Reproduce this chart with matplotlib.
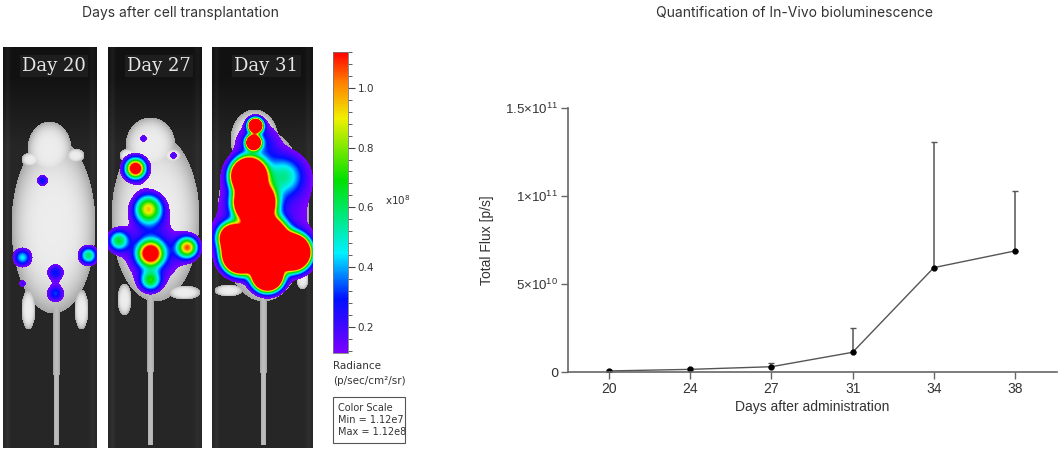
import numpy as np
import matplotlib
matplotlib.use("Agg")
import matplotlib.pyplot as plt
from matplotlib.colors import LinearSegmentedColormap, Normalize
from matplotlib.cm import ScalarMappable
from matplotlib.patches import Rectangle
from matplotlib.ticker import MultipleLocator

# ---------------- data ----------------
days = ["20", "24", "27", "31", "34", "38"]
flux_mean = [0.06e10, 0.15e10, 0.30e10, 1.12e10, 5.93e10, 6.88e10]
flux_err_up = [0.03e10, 0.08e10, 0.20e10, 1.36e10, 7.14e10, 3.42e10]
yticks = [0, 5e10, 1e11, 1.5e11]
ytick_labels = ["0", r"$5{\times}10^{10}$", r"$1{\times}10^{11}$", r"$1.5{\times}10^{11}$"]

panel_days = ["Day 20", "Day 27", "Day 31"]
cbar_min, cbar_max = 0.112, 1.12
cbar_ticks = [0.2, 0.4, 0.6, 0.8, 1.0]

# blobs of signal per mouse: (x, y, sigma, peak) in panel pixels, peak in 1e8 units
blobs = [
    [(39, 133, 4, 0.3), (19, 210, 6, 0.45), (85, 208, 6, 0.6), (52, 225, 6, 0.3),
     (52, 246, 6, 0.32), (19, 236, 3, 0.2)],
    [(27, 121, 6, 1.3), (40, 160, 9, 0.6), (42, 206, 8, 1.3), (10, 193, 7, 0.6),
     (79, 200, 7, 1.0), (42, 233, 7, 0.6), (35, 91, 3, 0.2), (65, 108, 3, 0.2),
     (45, 205, 20, 0.3), (40, 165, 11, 0.35), (27, 121, 10, 0.25)],
    [(43, 78, 4, 4), (41, 95, 4, 4), (36, 128, 9, 6), (42, 155, 10, 7),
     (52, 192, 11, 8), (28, 208, 9, 7), (80, 205, 9, 7), (55, 228, 8, 6),
     (20, 190, 8, 3), (72, 128, 14, 0.45), (45, 95, 14, 0.3), (50, 170, 40, 0.2)],
]
# mouse silhouettes: head, body, extra ellipses (cx, cy, a, b); tail x
mice = [
    dict(w=94, head=(46, 102, 22, 28), body=(50, 178, 42, 88),
         legs=[(27, 112, 9, 7), (72, 108, 9, 7), (25, 262, 7, 20), (78, 262, 7, 20)],
         tail=53, tail_top=255),
    dict(w=94, head=(42, 98, 25, 28), body=(47, 170, 44, 84),
         legs=[(20, 108, 9, 7), (64, 108, 9, 7), (16, 252, 7, 16), (76, 245, 16, 7)],
         tail=42, tail_top=248),
    dict(w=101, head=(42, 92, 24, 30), body=(51, 168, 46, 86),
         legs=[(16, 243, 14, 6), (90, 232, 6, 10)], tail=51, tail_top=250),
]
panel_px = [(3, 97), (108, 202), (212, 313)]

# ---------------- figure ----------------
W, H = 1062, 453
fig = plt.figure(figsize=(W / 100, H / 100), dpi=100)
fig.patch.set_facecolor("white")

cmap = LinearSegmentedColormap.from_list(
    "radiance",
    [(0.0, "#7a00ff"), (0.18, "#0010ff"), (0.33, "#00f0ff"), (0.575, "#00e000"),
     (0.78, "#f0f000"), (0.9, "#ff8000"), (1.0, "#ff0000")])
norm = Normalize(cbar_min, cbar_max)


def fax(x0, y0, x1, y1):
    return fig.add_axes([x0 / W, 1 - y1 / H, (x1 - x0) / W, (y1 - y0) / H])


for i, (px, m, bl, lab) in enumerate(zip(panel_px, mice, blobs, panel_days)):
    ax = fax(px[0], 47, px[1], 448)
    w = m["w"]
    hgt = 401
    yy, xx = np.mgrid[0:hgt, 0:w].astype(float)
    img = 0.07 + 0.08 * np.clip((yy - 30) / 70, 0, 1)
    img = img + 0.04 * np.exp(-((xx - 4) ** 2) / 6) + 0.03 * np.exp(-((xx - w + 5) ** 2) / 8)
    shade = np.zeros((hgt, w))
    inside = np.zeros((hgt, w), bool)
    for (cx, cy, a, b) in [m["head"], m["body"]] + m["legs"]:
        e = ((xx - cx) / a) ** 2 + ((yy - cy) / b) ** 2
        msk = e < 1
        shade = np.where(msk, np.maximum(shade, 0.93 - 0.28 * e ** 2), shade)
        inside |= msk
    tx = m["tail"]
    tw = 4.0 - 2.0 * (yy - m["tail_top"]) / (hgt - m["tail_top"])
    tmask = (np.abs(xx - tx) < tw) & (yy > m["tail_top"]) & (yy < hgt - 3)
    shade = np.where(tmask, np.maximum(shade, 0.74 - 0.15 * (np.abs(xx - tx) / 4) ** 2), shade)
    inside |= tmask
    img = np.where(inside, shade, img)
    rgb = np.dstack([img, img, img])
    field = np.zeros((hgt, w))
    for (cx, cy, s, amp) in bl:
        field += amp * np.exp(-((xx - cx) ** 2 + (yy - cy) ** 2) / (2 * s * s))
    col = cmap(norm(np.clip(field, cbar_min, cbar_max)))[..., :3]
    sig = field > cbar_min
    rgb = np.where(sig[..., None], col, rgb)
    ax.imshow(rgb, extent=(0, w, hgt, 0), aspect="auto", interpolation="bilinear")
    ax.set_xlim(0, w)
    ax.set_ylim(hgt, 0)
    ax.axis("off")
    ax.text(w / 2 + 4, 19, lab, ha="center", va="center", color="#e6e6e6",
            fontsize=13, family="DejaVu Serif",
            bbox=dict(boxstyle="square,pad=0.12", fc="#1e1e1e", ec="none"))

# colorbar
cax = fax(333, 52, 348, 353)
cb = fig.colorbar(ScalarMappable(norm=norm, cmap=cmap), cax=cax)
cb.set_ticks(cbar_ticks)
cb.set_ticklabels([f"{t:.1f}" for t in cbar_ticks])
cax.yaxis.set_minor_locator(MultipleLocator(0.04))
cax.tick_params(which="major", length=5, width=0.8, colors="#444", labelsize=7.5,
                labelcolor="#333", pad=2)
cax.tick_params(which="minor", length=3, width=0.6, colors="#444")
cb.outline.set_edgecolor("#777")
cb.outline.set_linewidth(0.6)

fig.text(385 / W, 1 - 200 / H, r"x10$^8$", fontsize=7.5, color="#333",
         ha="left", va="center")
fig.text(333 / W, 1 - 366 / H, "Radiance", fontsize=7.5, color="#333",
         ha="left", va="center")
fig.text(333 / W, 1 - 381 / H, "(p/sec/cm²/sr)", fontsize=7.5, color="#333",
         ha="left", va="center")
fig.patches.append(Rectangle((333 / W, 1 - 443 / H), 72 / W, 46 / H,
                             transform=fig.transFigure, fill=False,
                             ec="#555", lw=0.8))
fig.text(338 / W, 1 - 420 / H, "Color Scale\nMin = 1.12e7\nMax = 1.12e8",
         fontsize=7, color="#333", ha="left", va="center", linespacing=1.2)

# titles
fig.text(180 / W, 1 - 13 / H, "Days after cell transplantation", ha="center",
         va="center", fontsize=10, family="Inter", color="#333")
fig.text(795 / W, 1 - 13 / H, "Quantification of In-Vivo bioluminescence",
         ha="center", va="center", fontsize=10, family="Inter", color="#333")

# ---------------- line chart ----------------
plt.rcParams["mathtext.fontset"] = "custom"
plt.rcParams["mathtext.rm"] = "Liberation Sans"
plt.rcParams["mathtext.it"] = "Liberation Sans"
ax2 = fax(568, 108, 1057, 372)
x = np.arange(len(days))
ax2.errorbar(x, flux_mean, yerr=[np.zeros(len(days)), flux_err_up], fmt="-o",
             color="#555", ecolor="#555", elinewidth=1.1, capsize=2.5, capthick=1.0,
             markersize=3.5, lw=1.0, mfc="#000", mec="#000")
ax2.set_xlim(-0.505, 5.517)
ax2.set_ylim(0, 1.5e11)
ax2.set_xticks(x)
ax2.set_xticklabels(days, family="Liberation Sans", fontsize=10, color="#333")
ax2.set_yticks(yticks)
ax2.set_yticklabels(ytick_labels, fontsize=9.5, color="#444")
for sp in ["top", "right"]:
    ax2.spines[sp].set_visible(False)
for sp in ["left", "bottom"]:
    ax2.spines[sp].set_color("#666")
    ax2.spines[sp].set_linewidth(1.2)
ax2.tick_params(length=5, width=1.0, colors="#666", labelcolor="#333", pad=2)
ax2.set_xlabel("Days after administration", family="Liberation Sans",
               fontsize=10, color="#333", labelpad=3)
ax2.set_ylabel("Total Flux [p/s]", family="Liberation Sans", fontsize=10,
               color="#333", labelpad=8)
ax2.patch.set_alpha(0)

fig.savefig("out.png", dpi=100, facecolor="white")
